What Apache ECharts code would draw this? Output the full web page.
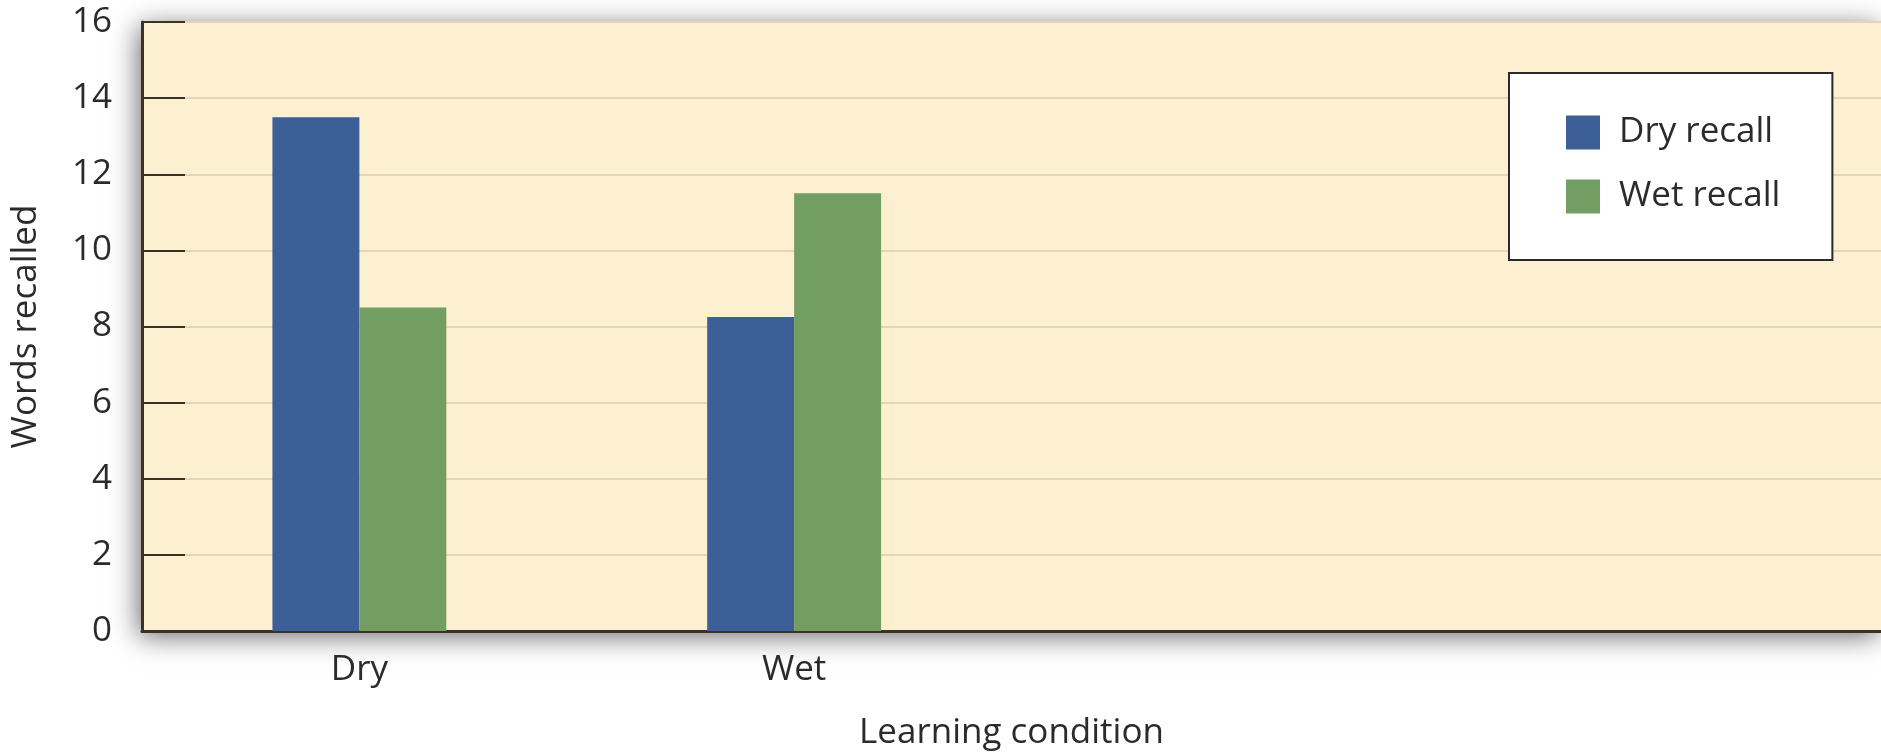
<!DOCTYPE html>
<html>
<head>
<meta charset="utf-8">
<script src="https://cdn.jsdelivr.net/npm/echarts@6/dist/echarts.min.js"></script>
<style>
html,body{margin:0;padding:0;background:#ffffff;}
#chart{width:1881px;height:756px;}
</style>
</head>
<body>
<div id="chart"></div>
<script>
const categories = ['Dry', 'Wet'];
const seriesNames = ['Dry recall', 'Wet recall'];
const dryRecall = [13.5, 8.25];
const wetRecall = [8.5, 11.5];
const yTicks = [0, 2, 4, 6, 8, 10, 12, 14, 16];

const FONT = '"Open Sans", "Noto Sans", sans-serif';
const TXT = '#2b2b2b';
const FS = 35;
const chart = echarts.init(document.getElementById('chart'), null, {renderer: 'canvas'});
chart.setOption({
  animation: false,
  backgroundColor: '#ffffff',
  textStyle: {fontFamily: FONT},
  grid: {
    left: 142, right: 0, top: 22, bottom: 122,
    show: true, backgroundColor: '#fdf0d0', borderWidth: 0,
    shadowBlur: 26, shadowColor: 'rgba(0,0,0,0.6)', shadowOffsetX: -3, shadowOffsetY: 5
  },
  legend: {
    data: seriesNames,
    orient: 'vertical',
    left: 1509, top: 73,
    padding: [42, 52, 46, 57],
    itemWidth: 34, itemHeight: 34, itemGap: 29,
    icon: 'rect',
    backgroundColor: '#ffffff',
    borderColor: '#2a2a2a', borderWidth: 2,
    textStyle: {fontSize: FS, color: TXT, fontFamily: FONT, padding: [0, 0, 0, 14]}
  },
  xAxis: {
    type: 'category',
    data: categories,
    max: 3,
    name: 'Learning condition',
    nameLocation: 'middle',
    nameGap: 85,
    nameTextStyle: {fontSize: FS, color: TXT, fontFamily: FONT},
    axisLine: {lineStyle: {color: '#3a3128', width: 3}},
    axisTick: {show: false},
    axisLabel: {
      fontSize: FS, color: TXT, margin: 22, fontFamily: FONT,
      formatter: v => (categories.indexOf(v) >= 0 ? v : '')
    },
    splitLine: {show: false}
  },
  yAxis: {
    type: 'value',
    min: yTicks[0], max: yTicks[yTicks.length - 1], interval: 2,
    name: 'Words recalled',
    nameLocation: 'middle',
    nameGap: 98,
    nameTextStyle: {fontSize: FS, color: TXT, fontFamily: FONT},
    axisLine: {show: true, lineStyle: {color: '#3a3128', width: 3}},
    axisTick: {show: true, inside: true, length: 43, lineStyle: {color: '#3a3128', width: 2}},
    axisLabel: {fontSize: FS, color: TXT, margin: 30, fontFamily: FONT},
    splitLine: {show: true, lineStyle: {color: '#e3d5b6', width: 2}}
  },
  series: [
    {name: seriesNames[0], type: 'bar', data: dryRecall, barGap: '0%', barCategoryGap: '60%',
     itemStyle: {color: '#3c5f98'}},
    {name: seriesNames[1], type: 'bar', data: wetRecall, barGap: '0%', barCategoryGap: '60%',
     itemStyle: {color: '#729e64'}}
  ]
});
</script>
</body>
</html>
